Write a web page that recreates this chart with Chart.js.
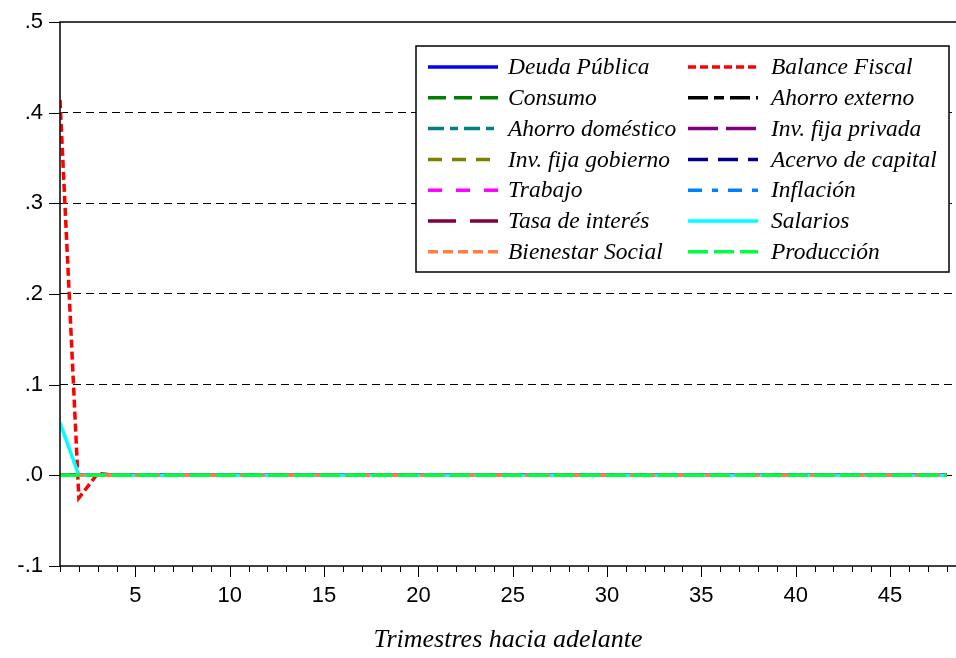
<!DOCTYPE html>
<html>
<head>
<meta charset="utf-8">
<script src="https://cdn.jsdelivr.net/npm/chart.js@4/dist/chart.umd.min.js"></script>
<style>
  html, body { margin: 0; padding: 0; background: #fff; }
  canvas { display: block; }
</style>
</head>
<body>
<canvas id="chart" width="956" height="658"></canvas>
<script>
// periods (quarters ahead)
const periods = [1,2,3,4,5,6,7,8,9,10,11,12,13,14,15,16,17,18,19,20,21,22,23,24,
                 25,26,27,28,29,30,31,32,33,34,35,36,37,38,39,40,41,42,43,44,45,46,47,48];
const xTickLabels = [5,10,15,20,25,30,35,40,45];
const yTickValues = [-0.1, 0, 0.1, 0.2, 0.3, 0.4, 0.5];

// responses
const deudaPublica    = [0,0,0,0,0,0,0,0,0,0,0,0,0,0,0,0,0,0,0,0,0,0,0,0,0,0,0,0,0,0,0,0,0,0,0,0,0,0,0,0,0,0,0,0,0,0,0,0];
const balanceFiscal   = [0.414,-0.025,0.002,0,0,0,0,0,0,0,0,0,0,0,0,0,0,0,0,0,0,0,0,0,0,0,0,0,0,0,0,0,0,0,0,0,0,0,0,0,0,0,0,0,0,0,0,0];
const consumo         = [0,0,0,0,0,0,0,0,0,0,0,0,0,0,0,0,0,0,0,0,0,0,0,0,0,0,0,0,0,0,0,0,0,0,0,0,0,0,0,0,0,0,0,0,0,0,0,0];
const ahorroExterno   = [0,0,0,0,0,0,0,0,0,0,0,0,0,0,0,0,0,0,0,0,0,0,0,0,0,0,0,0,0,0,0,0,0,0,0,0,0,0,0,0,0,0,0,0,0,0,0,0];
const ahorroDomestico = [0,0,0,0,0,0,0,0,0,0,0,0,0,0,0,0,0,0,0,0,0,0,0,0,0,0,0,0,0,0,0,0,0,0,0,0,0,0,0,0,0,0,0,0,0,0,0,0];
const invPrivada      = [0,0,0,0,0,0,0,0,0,0,0,0,0,0,0,0,0,0,0,0,0,0,0,0,0,0,0,0,0,0,0,0,0,0,0,0,0,0,0,0,0,0,0,0,0,0,0,0];
const invGobierno     = [0,0,0,0,0,0,0,0,0,0,0,0,0,0,0,0,0,0,0,0,0,0,0,0,0,0,0,0,0,0,0,0,0,0,0,0,0,0,0,0,0,0,0,0,0,0,0,0];
const acervoCapital   = [0,0,0,0,0,0,0,0,0,0,0,0,0,0,0,0,0,0,0,0,0,0,0,0,0,0,0,0,0,0,0,0,0,0,0,0,0,0,0,0,0,0,0,0,0,0,0,0];
const trabajo         = [0,0,0,0,0,0,0,0,0,0,0,0,0,0,0,0,0,0,0,0,0,0,0,0,0,0,0,0,0,0,0,0,0,0,0,0,0,0,0,0,0,0,0,0,0,0,0,0];
const inflacion       = [0,0,0,0,0,0,0,0,0,0,0,0,0,0,0,0,0,0,0,0,0,0,0,0,0,0,0,0,0,0,0,0,0,0,0,0,0,0,0,0,0,0,0,0,0,0,0,0];
const tasaInteres     = [0,0,0,0,0,0,0,0,0,0,0,0,0,0,0,0,0,0,0,0,0,0,0,0,0,0,0,0,0,0,0,0,0,0,0,0,0,0,0,0,0,0,0,0,0,0,0,0];
const salarios        = [0.058,0,0,0,0,0,0,0,0,0,0,0,0,0,0,0,0,0,0,0,0,0,0,0,0,0,0,0,0,0,0,0,0,0,0,0,0,0,0,0,0,0,0,0,0,0,0,0];
const bienestar       = [0,0,0,0,0,0,0,0,0,0,0,0,0,0,0,0,0,0,0,0,0,0,0,0,0,0,0,0,0,0,0,0,0,0,0,0,0,0,0,0,0,0,0,0,0,0,0,0];
const produccion      = [0,0,0,0,0,0,0,0,0,0,0,0,0,0,0,0,0,0,0,0,0,0,0,0,0,0,0,0,0,0,0,0,0,0,0,0,0,0,0,0,0,0,0,0,0,0,0,0];

const series = [
  ["Deuda Pública",      deudaPublica,    "#0000FF", []],
  ["Balance Fiscal",     balanceFiscal,   "#FF0000", [8,4]],
  ["Consumo",            consumo,         "#008000", [18,8]],
  ["Ahorro externo",     ahorroExterno,   "#000000", [20,6,10,6]],
  ["Ahorro doméstico",   ahorroDomestico, "#008080", [16,6,8,6]],
  ["Inv. fija privada",  invPrivada,      "#800080", [30,8]],
  ["Inv. fija gobierno", invGobierno,     "#808000", [14,10]],
  ["Acervo de capital",  acervoCapital,   "#000080", [20,10]],
  ["Trabajo",            trabajo,         "#FF00FF", [14,14]],
  ["Inflación",          inflacion,       "#0080FF", [14,10,6,10]],
  ["Tasa de interés",    tasaInteres,     "#800040", [28,14]],
  ["Salarios",           salarios,        "#00FFFF", []],
  ["Bienestar Social",   bienestar,       "#FF8040", [10,5]],
  ["Producción",         produccion,      "#00FF40", [20,6]]
];

// later series drawn on top, like the original
const datasets = series.map(([label, vals, color, dash], i) => ({
  label: label,
  data: periods.map((p, k) => ({x: p, y: vals[k]})),
  borderColor: color,
  backgroundColor: color,
  borderDash: dash,
  borderWidth: 3.5,
  pointRadius: 0,
  fill: false,
  tension: 0,
  order: series.length - i
}));

// frame and tick marks
const framePlugin = {
  id: "frame",
  afterDraw(chart) {
    const ctx = chart.ctx, area = chart.chartArea;
    const xs = chart.scales.x, ys = chart.scales.y;
    ctx.save();
    ctx.strokeStyle = "#000";
    ctx.setLineDash([]);
    ctx.lineWidth = 1;
    periods.forEach(p => {
      const px = Math.round(xs.getPixelForValue(p)) + 0.5;
      ctx.beginPath();
      ctx.moveTo(px, area.bottom);
      ctx.lineTo(px, area.bottom + (p % 5 === 0 ? 11 : 6));
      ctx.stroke();
    });
    yTickValues.forEach(v => {
      const py = Math.round(ys.getPixelForValue(v)) + 0.5;
      ctx.beginPath();
      ctx.moveTo(area.left - 11, py);
      ctx.lineTo(area.left, py);
      ctx.stroke();
    });
    ctx.lineWidth = 1.5;
    ctx.beginPath();
    ctx.moveTo(area.right, area.top);
    ctx.lineTo(area.left, area.top);
    ctx.lineTo(area.left, area.bottom);
    ctx.lineTo(area.right, area.bottom);
    ctx.stroke();
    ctx.restore();
  }
};

// boxed legend, two columns, inside the plot
const legendPlugin = {
  id: "boxLegend",
  afterDatasetsDraw(chart) {
    const ctx = chart.ctx;
    const box = {x: 416, y: 46, w: 533, h: 226};
    const rowH = 30.8, firstRow = 67;
    const cols = [{line: 428, text: 508}, {line: 688, text: 771}];
    ctx.save();
    ctx.fillStyle = "#fff";
    ctx.fillRect(box.x, box.y, box.w, box.h);
    ctx.strokeStyle = "#000";
    ctx.lineWidth = 1.5;
    ctx.strokeRect(box.x, box.y, box.w, box.h);
    ctx.font = "italic 23.5px 'Liberation Serif', serif";
    ctx.textBaseline = "middle";
    ctx.fillStyle = "#000";
    chart.data.datasets.forEach((ds, i) => {
      const c = cols[i % 2];
      const y = firstRow + Math.floor(i / 2) * rowH;
      ctx.strokeStyle = ds.borderColor;
      ctx.lineWidth = 3.5;
      ctx.setLineDash(ds.borderDash);
      ctx.beginPath();
      ctx.moveTo(c.line, y);
      ctx.lineTo(c.line + 70, y);
      ctx.stroke();
      ctx.setLineDash([]);
      ctx.fillText(ds.label, c.text, y + 1);
    });
    ctx.restore();
  }
};

new Chart(document.getElementById("chart"), {
  type: "line",
  data: {datasets: datasets},
  plugins: [framePlugin, legendPlugin],
  options: {
    responsive: false,
    animation: false,
    layout: {padding: {top: 22, left: 0, right: 0, bottom: 0}},
    plugins: {legend: {display: false}, tooltip: {enabled: false}},
    scales: {
      x: {
        type: "linear",
        min: 1,
        max: 48.5,
        afterFit(scale) { scale.height = 92; },
        afterBuildTicks(scale) { scale.ticks = xTickLabels.map(v => ({value: v})); },
        grid: {display: false},
        border: {display: false},
        ticks: {
          color: "#000",
          padding: 9,
          maxRotation: 0,
          font: {family: "'Liberation Sans', Arial, sans-serif", size: 22}
        },
        title: {
          display: true,
          text: "Trimestres hacia adelante",
          color: "#000",
          padding: {top: 0, bottom: 2},
          font: {family: "'Liberation Serif', serif", size: 26, style: "italic"}
        }
      },
      y: {
        min: -0.1,
        max: 0.5,
        afterFit(scale) { scale.width = 60; },
        afterBuildTicks(scale) { scale.ticks = yTickValues.map(v => ({value: v})); },
        grid: {
          drawOnChartArea: true,
          drawTicks: true,
          tickLength: 11,
          tickColor: "rgba(0,0,0,0)",
          color: ctx => (ctx.tick && (ctx.tick.value > 0.45 || ctx.tick.value < -0.05)) ? "rgba(0,0,0,0)" : "#000",
          lineWidth: 1
        },
        border: {display: false, dash: [8, 5]},
        ticks: {
          color: "#000",
          padding: 6,
          font: {family: "'Liberation Sans', Arial, sans-serif", size: 22},
          callback: v => {
            const t = Math.round(Math.abs(v) * 10);
            return (v < -1e-9 ? "-" : "") + "." + t;
          }
        }
      }
    }
  }
});
</script>
</body>
</html>
